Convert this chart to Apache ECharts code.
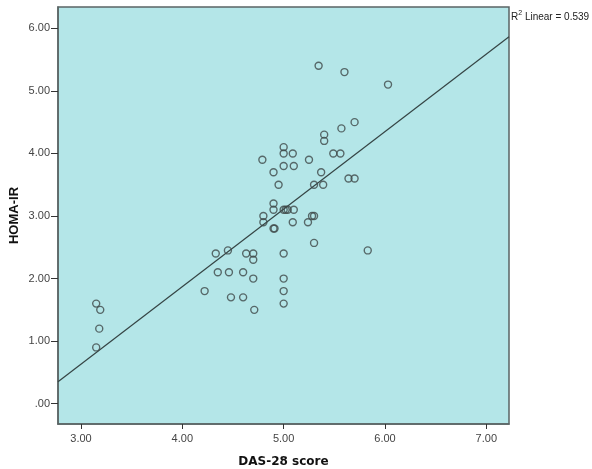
<!DOCTYPE html>
<html>
<head>
  <meta charset="utf-8">
  <script src="https://cdn.jsdelivr.net/npm/echarts@6/dist/echarts.min.js"></script>
</head>
<body style="margin:0;background:#fff;">
<div id="main" style="width:592px;height:469px;"></div>
<script type="text/javascript">
// DAS-28 score vs HOMA-IR
var dasScore = [3.15, 3.19, 3.18, 3.15, 4.22, 4.33, 4.35, 4.45, 4.46, 4.48,
  4.60, 4.60, 4.63, 4.70, 4.70, 4.70, 4.71, 4.79, 4.80, 4.80,
  4.90, 4.90, 4.90, 4.90, 4.91, 4.95, 5.00, 5.00, 5.00, 5.00,
  5.02, 5.04, 5.00, 5.00, 5.00, 5.00, 5.09, 5.10, 5.10, 5.09,
  5.24, 5.25, 5.28, 5.30, 5.30, 5.30, 5.345, 5.37, 5.39, 5.40,
  5.40, 5.49, 5.56, 5.57, 5.60, 5.64, 5.70, 5.70, 5.83, 6.03];
var homaIR = [1.60, 1.50, 1.20, 0.90, 1.80, 2.40, 2.10, 2.45, 2.10, 1.70,
  2.10, 1.70, 2.40, 2.40, 2.30, 2.00, 1.50, 3.90, 3.00, 2.90,
  3.70, 3.20, 3.10, 2.80, 2.80, 3.50, 4.10, 4.00, 3.80, 3.10,
  3.10, 3.10, 2.40, 2.00, 1.80, 1.60, 4.00, 3.80, 3.10, 2.90,
  2.90, 3.90, 3.00, 3.00, 3.50, 2.57, 5.40, 3.70, 3.50, 4.30,
  4.20, 4.00, 4.00, 4.40, 5.30, 3.60, 3.60, 4.50, 2.45, 5.10];

var xTicks = [3, 4, 5, 6, 7];
var yTicks = [0, 1, 2, 3, 4, 5, 6];

// fit line as drawn (slope / intercept)
var fitSlope = 1.2388;
var fitIntercept = -3.083;
var rSquared = '0.539';

var xMin = 2.773, xMax = 7.224;
var yMin = -0.324, yMax = 6.34;

var points = dasScore.map(function (x, i) { return [x, homaIR[i]]; });
var fitLine = [[xMin, fitSlope * xMin + fitIntercept], [xMax, fitSlope * xMax + fitIntercept]];

function fmt(v) {
  var s = v.toFixed(2);
  return s.charAt(0) === '0' ? s.slice(1) : s;
}

var myChart = echarts.init(document.getElementById('main'));
myChart.setOption({
  animation: false,
  backgroundColor: '#ffffff',
  grid: {
    left: 58, top: 7, right: 83, bottom: 45,
    outerBoundsMode: 'none',
    containLabel: false,
    show: true,
    backgroundColor: '#b4e6e8',
    borderColor: '#5a6464',
    borderWidth: 1.5
  },
  xAxis: {
    type: 'value',
    min: xMin, max: xMax,
    name: 'DAS-28 score',
    nameLocation: 'middle',
    nameGap: 32,
    nameTextStyle: { fontFamily: 'DejaVu Sans', fontWeight: 'bold', fontSize: 12, color: '#111' },
    axisLine: { show: true, onZero: false, lineStyle: { color: '#5a6464', width: 1.5 } },
    axisTick: { show: true, length: 5, customValues: xTicks, lineStyle: { color: '#333' } },
    axisLabel: {
      customValues: xTicks, formatter: fmt,
      fontFamily: 'Liberation Sans', fontSize: 11, color: '#444', margin: 9
    },
    splitLine: { show: false }
  },
  yAxis: {
    type: 'value',
    min: yMin, max: yMax,
    name: 'HOMA-IR',
    nameLocation: 'middle',
    nameGap: 37,
    nameMoveOverlap: false,
    nameTextStyle: { fontFamily: 'Liberation Sans', fontWeight: 'bold', fontSize: 13, color: '#111' },
    axisLine: { show: true, onZero: false, lineStyle: { color: '#5a6464', width: 1.5 } },
    axisTick: { show: true, length: 7, customValues: yTicks, lineStyle: { color: '#333' } },
    axisLabel: {
      customValues: yTicks, formatter: fmt,
      fontFamily: 'Liberation Sans', fontSize: 11, color: '#444', margin: 8
    },
    splitLine: { show: false }
  },
  graphic: [{
    type: 'text',
    left: 511, top: 10,
    style: {
      text: '{a|R}{s|2}{a| Linear = ' + rSquared + '}',
      rich: {
        a: { fontFamily: 'Liberation Sans', fontSize: 10, fill: '#222', verticalAlign: 'bottom' },
        s: { fontFamily: 'Liberation Sans', fontSize: 7, fill: '#222', verticalAlign: 'top', padding: [0, 0, 5, 0] }
      }
    }
  }],
  series: [
    {
      type: 'line',
      data: fitLine,
      symbol: 'none',
      lineStyle: { color: '#354444', width: 1.2 },
      z: 2
    },
    {
      type: 'scatter',
      data: points,
      symbol: 'circle',
      symbolSize: 7,
      itemStyle: { color: 'rgba(0,0,0,0)', borderColor: '#3e4848', borderWidth: 1.4 },
      z: 3
    }
  ]
});
</script>
</body>
</html>
